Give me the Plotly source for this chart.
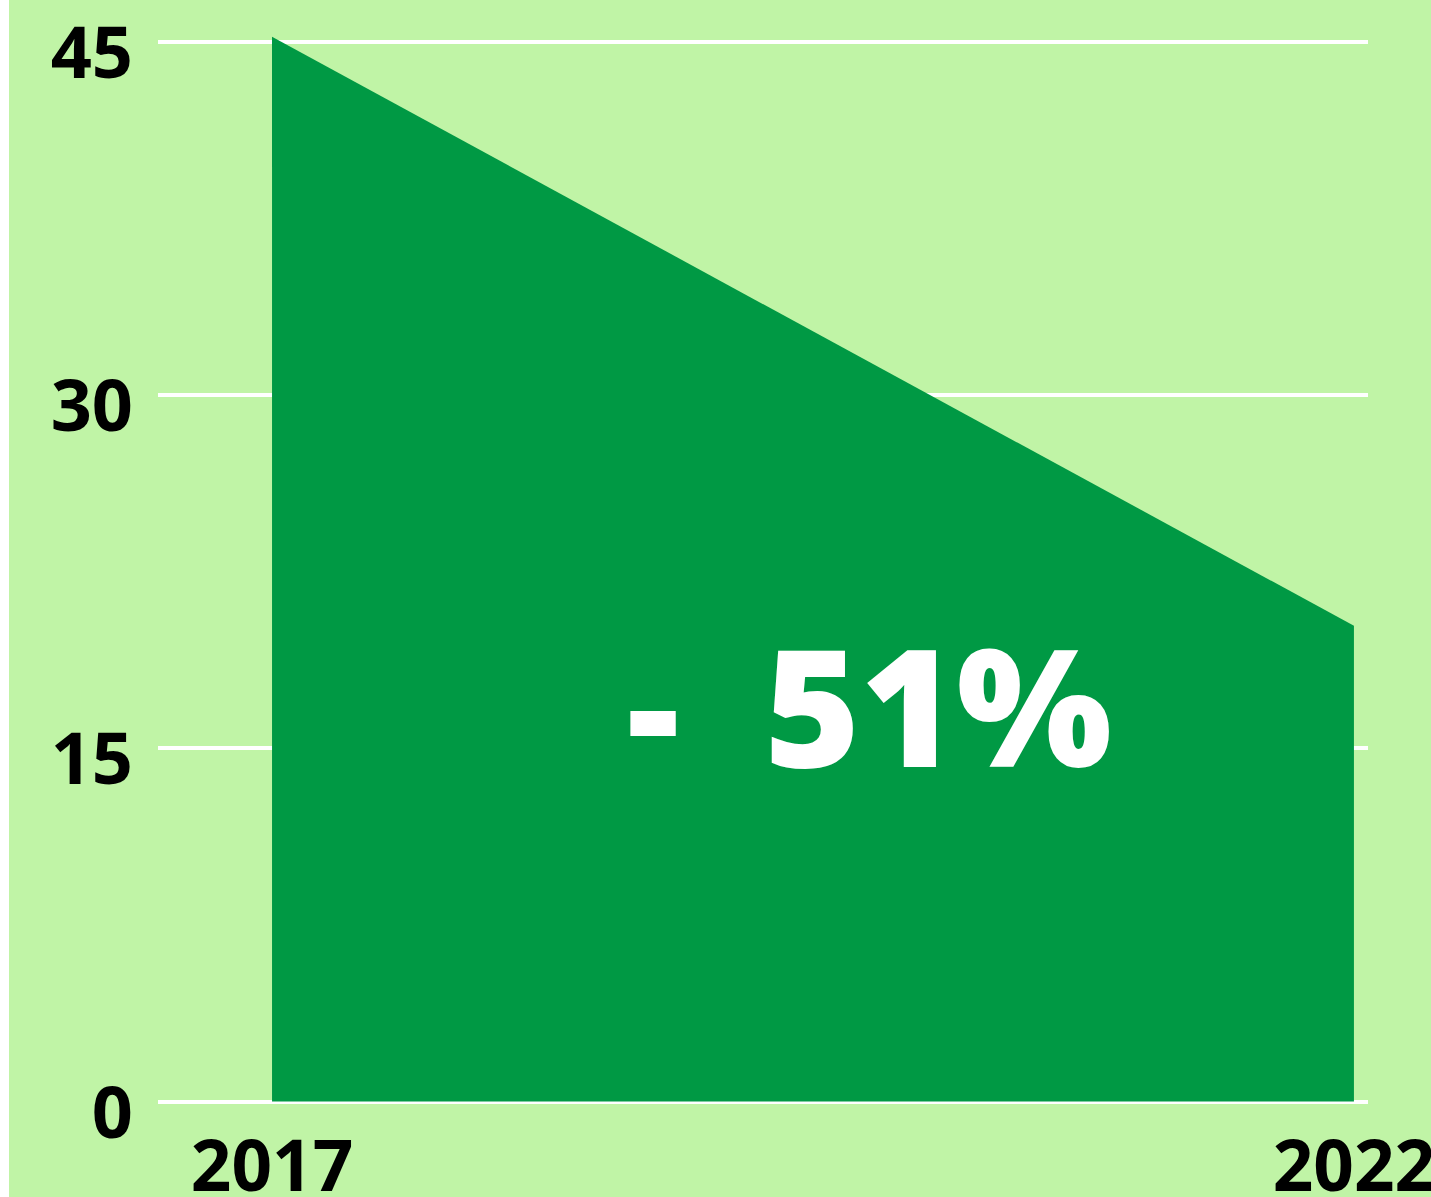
import plotly.graph_objects as go

# Data
years = [2017, 2022]
values = [45.2, 20.2]
y_ticks = [0, 15, 30, 45]
change_label = "-  51%"

LIGHT = "#C0F4A6"
DARK = "#009944"

W, H = 1431, 1197
ML, MR, MT, MB = 158, 63, 18, 86

fig = go.Figure()
fig.add_trace(go.Scatter(
    x=years, y=values, mode="lines", fill="tozeroy",
    fillcolor=DARK, line=dict(color=DARK, width=0),
    hoverinfo="skip", showlegend=False,
))

fig.add_annotation(
    x=2019.76, y=16.9, xref="x", yref="y",
    text=change_label, showarrow=False,
    font=dict(family="Open Sans", size=164, color="white", weight=800),
    xanchor="center", yanchor="middle",
)

# white strip on the left edge
fig.add_shape(
    type="rect", xref="paper", yref="paper",
    xsizemode="pixel", xanchor=0, x0=-ML, x1=-ML + 9,
    ysizemode="pixel", yanchor=0, y0=-MB - 5, y1=H,
    fillcolor="white", line=dict(width=0), layer="below",
)

fig.update_layout(
    width=W, height=H,
    margin=dict(l=ML, r=MR, t=MT, b=MB, autoexpand=False),
    paper_bgcolor=LIGHT, plot_bgcolor=LIGHT,
    showlegend=False,
    xaxis=dict(
        range=[2016.473, 2022.065], automargin=False,
        tickvals=years, ticktext=[str(y) for y in years],
        showgrid=False, zeroline=False, showline=False, ticks="",
        tickfont=dict(family="Open Sans", size=71, color="black", weight=700),
        ticklabelstandoff=8, ticklabeloverflow="allow",
    ),
    yaxis=dict(
        range=[-0.4, 46], automargin=False,
        tickvals=y_ticks, ticktext=[str(v) for v in y_ticks],
        showgrid=True, gridcolor="white", gridwidth=4,
        zeroline=False, showline=False, ticks="",
        tickfont=dict(family="Open Sans", size=72, color="black", weight=700),
        ticklabelstandoff=24, ticklabeloverflow="allow", ticklabelshift=11,
    ),
)

fig.write_html("out.html")
